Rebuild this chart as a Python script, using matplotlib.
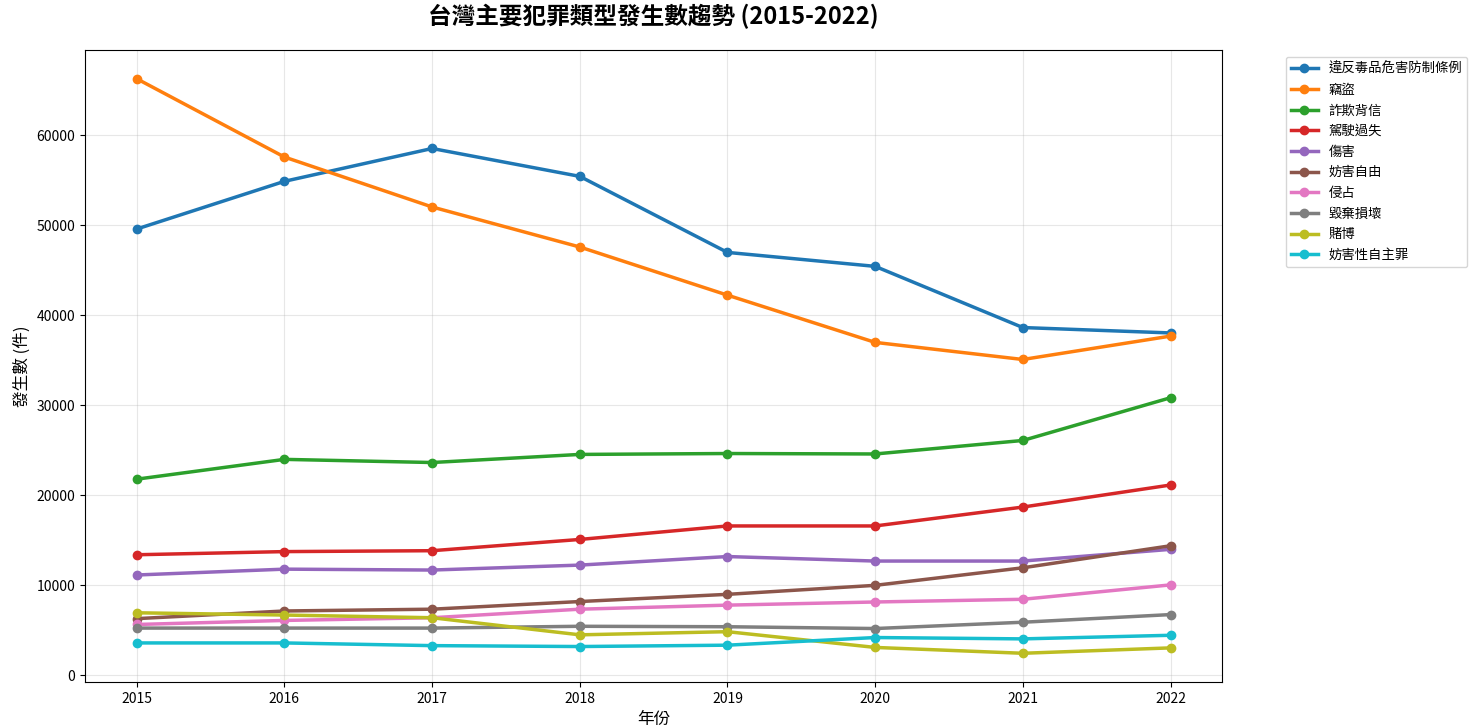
import matplotlib
matplotlib.use("Agg")
import matplotlib.pyplot as plt

plt.rcParams['font.family'] = ['Noto Sans CJK TC', 'DejaVu Sans']

years = [2015, 2016, 2017, 2018, 2019, 2020, 2021, 2022]

drugs = [49600, 54900, 58550, 55450, 47000, 45450, 38650, 38050]
theft = [66300, 57600, 52050, 47600, 42250, 37000, 35100, 37700]
fraud = [21800, 24000, 23650, 24550, 24650, 24600, 26100, 30850]
driving = [13400, 13750, 13850, 15100, 16600, 16600, 18700, 21150]
injury = [11150, 11800, 11700, 12250, 13200, 12700, 12700, 14000]
freedom = [6300, 7150, 7350, 8200, 9000, 10000, 11950, 14400]
occupation = [5650, 6100, 6400, 7350, 7800, 8150, 8450, 10050]
damage = [5250, 5250, 5250, 5450, 5400, 5200, 5900, 6750]
gambling = [6950, 6700, 6400, 4500, 4850, 3100, 2450, 3050]
sexual = [3600, 3600, 3300, 3200, 3350, 4200, 4050, 4450]

series = [
    ('違反毒品危害防制條例', drugs),
    ('竊盜', theft),
    ('詐欺背信', fraud),
    ('駕駛過失', driving),
    ('傷害', injury),
    ('妨害自由', freedom),
    ('侵占', occupation),
    ('毀棄損壞', damage),
    ('賭博', gambling),
    ('妨害性自主罪', sexual),
]

fig = plt.figure(figsize=(14.69, 7.26), dpi=100)
ax = fig.add_axes([0.0579, 0.0606, 0.7741, 0.8705])

for name, vals in series:
    ax.plot(years, vals, marker='o', linewidth=2.5, markersize=6, label=name)

ax.set_title('台灣主要犯罪類型發生數趨勢 (2015-2022)', fontsize=17, fontweight='bold', pad=19)
ax.set_xlabel('年份', fontsize=12)
ax.set_ylabel('發生數 (件)', fontsize=12)
ax.set_xticks(years)
ax.tick_params(labelsize=10)
ax.grid(True, alpha=0.3)
ax.legend(bbox_to_anchor=(1.05, 1), loc='upper left', fontsize=9.6)

fig.savefig('out.png', dpi=100)
